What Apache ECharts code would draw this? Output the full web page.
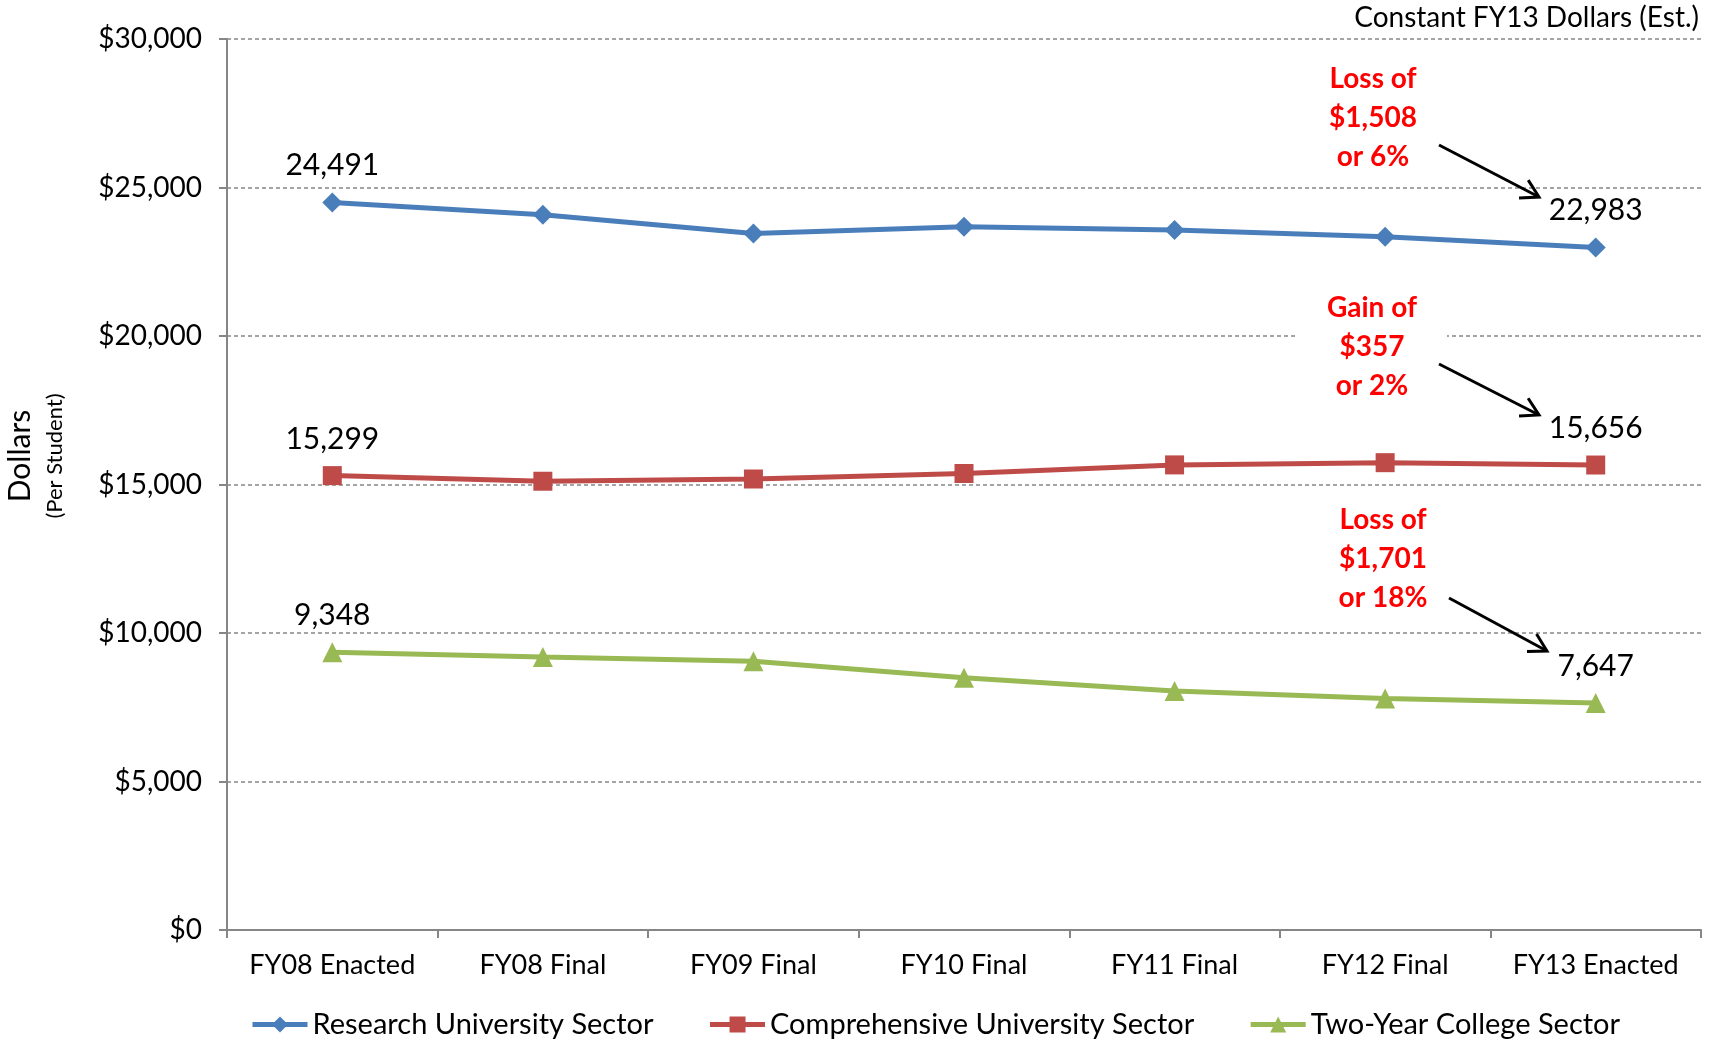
<!DOCTYPE html>
<html>
<head>
<meta charset="utf-8">
<script src="https://cdn.jsdelivr.net/npm/echarts@6/dist/echarts.min.js"></script>
<style>
  html, body { margin: 0; padding: 0; background: #ffffff; }
  #chart { width: 1712px; height: 1046px; }
</style>
</head>
<body>
<div id="chart"></div>
<script>
// categories and values per student (constant FY13 dollars)
const categories = ["FY08 Enacted", "FY08 Final", "FY09 Final", "FY10 Final", "FY11 Final", "FY12 Final", "FY13 Enacted"];
const research = [24491, 24080, 23455, 23675, 23565, 23345, 22983];
const comprehensive = [15299, 15110, 15185, 15370, 15660, 15735, 15656];
const twoYear = [9348, 9190, 9045, 8495, 8050, 7795, 7647];
const yTicks = [0, 5000, 10000, 15000, 20000, 25000, 30000];

const FONT = "Lato";

// only first and last points get a value label
function withEndLabels(values) {
  return values.map((v, i) => {
    if (i === 0 || i === values.length - 1) {
      return { value: v, label: { show: true } };
    }
    return v;
  });
}

function makeSeries(name, values, color, symbol, size) {
  return {
    name: name,
    type: "line",
    data: withEndLabels(values),
    symbol: symbol,
    symbolSize: size,
    lineStyle: { color: color, width: 5 },
    itemStyle: { color: color },
    label: {
      show: false,
      position: "top",
      distance: 12,
      color: "#000000",
      fontFamily: FONT,
      fontSize: 30,
      formatter: p => p.value.toLocaleString("en-US")
    },
    emphasis: { disabled: true }
  };
}

// red annotation texts + black arrows (pixel positions)
const notes = [
  { text: "Loss of\n$1,508\nor 6%", x: 1373, y: 118, from: [1439, 145], to: [1539, 197] },
  { text: "Gain of\n$357\nor 2%", x: 1372, y: 347, from: [1439, 364], to: [1539, 415] },
  { text: "Loss of\n$1,701\nor 18%", x: 1383, y: 559, from: [1449, 598], to: [1547, 651] }
];

function arrow(from, to) {
  const ang = Math.atan2(to[1] - from[1], to[0] - from[0]);
  const len = 20, spread = Math.PI / 6;
  const a1 = [to[0] - len * Math.cos(ang - spread), to[1] - len * Math.sin(ang - spread)];
  const a2 = [to[0] - len * Math.cos(ang + spread), to[1] - len * Math.sin(ang + spread)];
  return [
    { type: "line", shape: { x1: from[0], y1: from[1], x2: to[0], y2: to[1] }, style: { stroke: "#000", lineWidth: 3 }, z: 100 },
    { type: "polyline", shape: { points: [a1, to, a2] }, style: { stroke: "#000", lineWidth: 3, fill: null }, z: 100 }
  ];
}

const graphics = [];
notes.forEach(n => {
  graphics.push({
    type: "text",
    x: n.x, y: n.y, z: 90,
    style: {
      text: n.text,
      fill: "#ff0000",
      font: "bold 28px " + FONT,
      align: "center",
      verticalAlign: "middle",
      lineHeight: 39,
      backgroundColor: "#ffffff",
      padding: [0, 30]
    }
  });
  arrow(n.from, n.to).forEach(g => graphics.push(g));
});
graphics.push({
  type: "text", x: 20, y: 456, rotation: Math.PI / 2,
  style: { text: "Dollars", fill: "#000", font: "30px " + FONT, align: "center", verticalAlign: "middle" }
});
graphics.push({
  type: "text", x: 55, y: 456, rotation: Math.PI / 2,
  style: { text: "(Per Student)", fill: "#000", font: "22px " + FONT, align: "center", verticalAlign: "middle" }
});

const option = {
  animation: false,
  backgroundColor: "#ffffff",
  title: {
    text: "Constant FY13 Dollars (Est.)",
    right: 8,
    top: -1,
    textStyle: { fontFamily: FONT, fontWeight: "normal", fontSize: 28, color: "#000" }
  },
  grid: { left: 227, right: 11, top: 39, bottom: 116 },
  legend: {
    left: 245,
    bottom: 2,
    itemWidth: 55,
    itemHeight: 20,
    itemGap: 54,
    lineStyle: { width: 5 },
    textStyle: { fontFamily: FONT, fontSize: 29, color: "#000" },
    data: ["Research University Sector", "Comprehensive University Sector", "Two-Year College Sector"]
  },
  xAxis: {
    type: "category",
    data: categories,
    boundaryGap: true,
    axisLine: { lineStyle: { color: "#868686", width: 2 } },
    axisTick: { show: true, interval: 0, length: 8, lineStyle: { color: "#868686", width: 2 } },
    axisLabel: { interval: 0, hideOverlap: false, color: "#000", fontFamily: FONT, fontSize: 27, margin: 22 }
  },
  yAxis: {
    type: "value",
    min: yTicks[0],
    max: yTicks[yTicks.length - 1],
    interval: 5000,
    axisLine: { show: true, lineStyle: { color: "#868686", width: 2 } },
    axisTick: { show: true, length: 8, lineStyle: { color: "#868686", width: 2 } },
    axisLabel: {
      color: "#000", fontFamily: FONT, fontSize: 28, margin: 25,
      formatter: v => "$" + v.toLocaleString("en-US")
    },
    splitLine: { lineStyle: { color: "#868686", type: [4, 3], width: 1.5 } }
  },
  series: [
    makeSeries("Research University Sector", research, "#4a7ebb", "diamond", 20),
    makeSeries("Comprehensive University Sector", comprehensive, "#be4b48", "rect", 19),
    makeSeries("Two-Year College Sector", twoYear, "#98b954", "triangle", 20)
  ],
  graphic: graphics
};

const chartObj = echarts.init(document.getElementById("chart"));
chartObj.setOption(option);
</script>
</body>
</html>
